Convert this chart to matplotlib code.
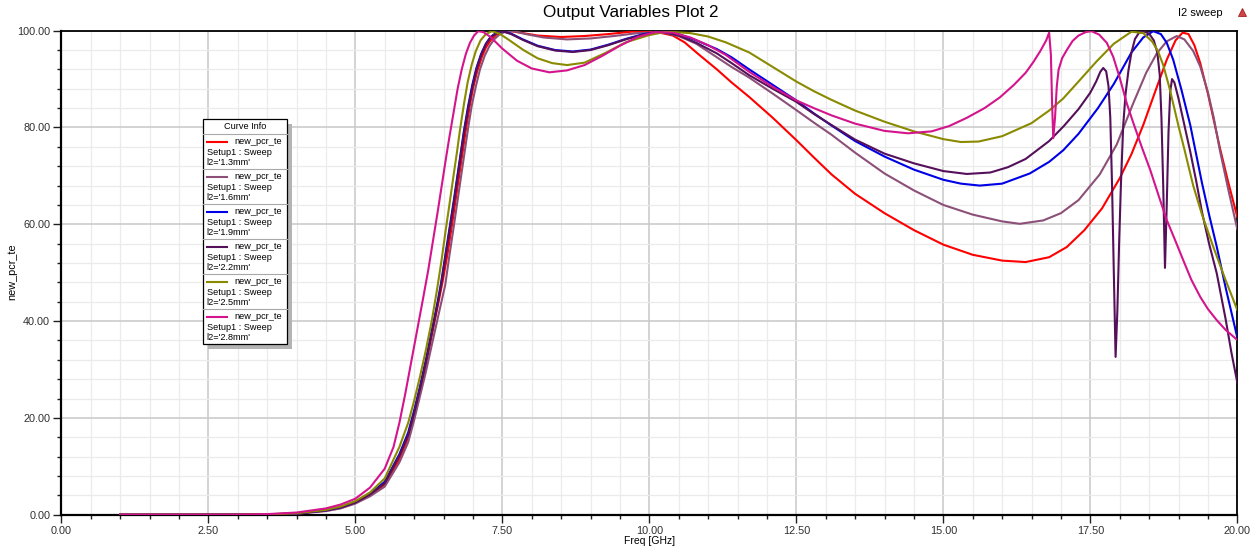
import matplotlib
matplotlib.use("Agg")
import matplotlib.pyplot as plt
from matplotlib.ticker import MultipleLocator, FormatStrFormatter
from matplotlib.patches import Rectangle
from matplotlib.lines import Line2D

plt.rcParams['font.family'] = ['Liberation Sans', 'DejaVu Sans']

# ---- sweep data: l2 = 1.3 .. 2.8 mm -------------------------------------
labels = ["l2='1.3mm'", "l2='1.6mm'", "l2='1.9mm'", "l2='2.2mm'", "l2='2.5mm'", "l2='2.8mm'"]
colors = ['#ff0000', '#8c5078', '#0000e6', '#55105a', '#8a8a00', '#d4148c']

freq_13 = [1.0, 2.0, 3.0, 3.5, 4.0, 4.5, 4.75, 5.0, 5.25, 5.5, 5.75, 5.9, 6.0, 6.1, 6.2, 6.3,
           6.4, 6.49, 6.57, 6.64, 6.7, 6.76, 6.82, 6.88, 6.94, 7.0, 7.07, 7.15, 7.22, 7.3, 7.4,
           7.5, 7.6, 7.8, 8.1, 8.5, 8.9, 9.3, 9.7, 10.1, 10.4, 10.6, 10.85, 11.15, 11.4, 11.7,
           12.1, 12.5, 12.8, 13.1, 13.5, 14.0, 14.5, 15.0, 15.5, 16.0, 16.4, 16.8, 17.1, 17.4,
           17.7, 18.0, 18.2, 18.4, 18.6, 18.8, 18.95, 19.07, 19.17, 19.27, 19.37, 19.5, 19.6,
           19.7, 19.85, 20.0]
pcr_13 = [0, 0, 0.01, 0.05, 0.22, 0.8, 1.4, 2.4, 4.0, 6.2, 11.5, 16, 20.5, 25.5, 31, 37,
          43, 48.5, 54, 59.5, 64.5, 69.5, 74.5, 79.5, 84, 88, 91.5, 94.5, 96.5, 98, 99.2,
          99.8, 100, 99.6, 99.0, 98.7, 98.9, 99.3, 99.8, 99.8, 99.0, 97.6, 95.0, 92.0, 89.3, 86.3,
          82.0, 77.4, 73.8, 70.3, 66.3, 62.3, 58.8, 55.8, 53.7, 52.5, 52.2, 53.2, 55.3, 58.8,
          63.3, 69.5, 74.5, 80.5, 87.3, 94.0, 98.0, 99.6, 99.3, 97.0, 93.3, 87.0, 81.5,
          76.0, 68.5, 61.5]

freq_16 = [1.0, 2.0, 3.0, 3.5, 4.0, 4.5, 4.75, 5.0, 5.25, 5.5, 5.75, 5.9, 6.0, 6.1, 6.2, 6.3,
           6.4, 6.53, 6.6, 6.68, 6.74, 6.8, 6.86, 6.92, 6.98, 7.05, 7.12, 7.2, 7.28, 7.36, 7.45,
           7.55, 7.7, 7.9, 8.2, 8.6, 9.0, 9.4, 9.8, 10.2, 10.5, 10.8, 11.15, 11.4, 11.7, 12.1,
           12.5, 12.8, 13.1, 13.5, 14.0, 14.5, 15.0, 15.5, 16.0, 16.3, 16.7, 17.0, 17.3, 17.66,
           17.95, 18.23, 18.45, 18.63, 18.8, 18.97, 19.1, 19.25, 19.37, 19.5, 19.6, 19.7, 19.85,
           20.0]
pcr_16 = [0, 0, 0.01, 0.05, 0.2, 0.75, 1.3, 2.3, 3.8, 5.8, 10.8, 15, 19.5, 24.5, 29.5, 35,
          40.5, 47.5, 53.5, 60, 65, 70, 75, 80, 84.5, 88.5, 92, 94.8, 96.8, 98.2, 99.2,
          99.8, 99.9, 99.3, 98.6, 98.2, 98.4, 98.9, 99.5, 99.7, 98.9, 97.3, 94.5, 92.5, 90.3, 87.0,
          83.6, 81.0, 78.5, 74.8, 70.5, 67.0, 64.0, 62.0, 60.6, 60.1, 60.8, 62.3, 65.0, 70.3,
          76.5, 85.0, 91.3, 95.3, 97.8, 98.9, 98.2, 95.8, 92.6, 87.3, 82.0, 75.5, 67.0,
          59.0]

freq_19 = [1.0, 2.0, 3.0, 3.5, 4.0, 4.5, 4.75, 5.0, 5.25, 5.5, 5.75, 5.9, 6.0, 6.1, 6.2, 6.3,
           6.4, 6.46, 6.53, 6.6, 6.67, 6.73, 6.79, 6.85, 6.92, 6.99, 7.06, 7.14, 7.22, 7.3, 7.4,
           7.5, 7.65, 7.85, 8.1, 8.4, 8.7, 9.0, 9.3, 9.6, 9.9, 10.2, 10.5, 10.8, 11.15, 11.4,
           11.7, 12.1, 12.5, 12.8, 13.1, 13.5, 14.0, 14.5, 15.0, 15.3, 15.62, 16.0, 16.47, 16.8,
           17.04, 17.3, 17.63, 17.9, 18.2, 18.4, 18.57, 18.7, 18.8, 18.91, 19.05, 19.2, 19.3,
           19.4, 19.52, 19.65, 19.8, 20.0]
pcr_19 = [0, 0, 0.01, 0.06, 0.25, 0.9, 1.5, 2.6, 4.3, 6.8, 12.5, 17, 21.5, 26.5, 32, 38,
          44, 48, 53.5, 59, 64.5, 69.5, 74.5, 79.5, 84.5, 88.8, 92.3, 95.2, 97.3, 98.7, 99.6,
          99.9, 99.4, 98.2, 96.9, 96.0, 95.7, 96.1, 97.1, 98.3, 99.3, 99.8, 99.3, 98.0, 96.2, 94.5,
          92.0, 88.8, 85.6, 82.9, 80.4, 77.2, 74.0, 71.3, 69.2, 68.4, 68.0, 68.4, 70.5, 72.9,
          75.3, 78.7, 84.0, 89.0, 95.5, 98.6, 99.9, 99.3, 97.5, 94.0, 87.8, 80.5, 74.5,
          68.5, 62.0, 55.4, 47.0, 36.6]

freq_22 = [1.0, 2.0, 3.0, 3.5, 4.0, 4.5, 4.75, 5.0, 5.25, 5.5, 5.75, 5.9, 6.0, 6.1, 6.2, 6.3,
           6.4, 6.46, 6.53, 6.6, 6.67, 6.73, 6.79, 6.85, 6.92, 6.99, 7.06, 7.14, 7.22, 7.3, 7.4,
           7.5, 7.65, 7.85, 8.1, 8.4, 8.7, 9.0, 9.3, 9.6, 9.9, 10.2, 10.5, 10.8, 11.15, 11.4,
           11.7, 12.1, 12.5, 12.8, 13.1, 13.5, 14.0, 14.5, 15.0, 15.4, 15.8, 16.1, 16.4, 16.8,
           17.05, 17.3, 17.5, 17.6, 17.67, 17.72, 17.77, 17.81, 17.84, 17.87, 17.9, 17.93, 17.96,
           17.99, 18.02, 18.06, 18.1, 18.15, 18.2, 18.26, 18.33, 18.4, 18.5, 18.58, 18.64, 18.68,
           18.71, 18.74, 18.77, 18.8, 18.83, 18.86, 18.89, 18.93, 19.0, 19.1, 19.2, 19.3, 19.4,
           19.52, 19.65, 19.8, 19.9, 20.0]
pcr_22 = [0, 0, 0.01, 0.06, 0.25, 0.9, 1.5, 2.5, 4.2, 6.5, 12.2, 16.5, 21, 26, 31.5, 37.5,
          43.5, 47.5, 53, 58.5, 64, 69, 74, 79, 84, 88.3, 92, 95, 97.2, 98.6, 99.5,
          99.9, 99.3, 98.1, 96.8, 95.9, 95.6, 96.0, 97.0, 98.2, 99.2, 99.8, 99.0, 97.5, 95.3, 93.3,
          90.8, 88.0, 85.3, 82.8, 80.5, 77.5, 74.6, 72.6, 71.0, 70.4, 70.7, 71.8, 73.5, 77.2,
          80.3, 83.8, 87.2, 89.5, 91.5, 92.3, 91.6, 88.5, 82.0, 68.0, 50.0, 32.6, 42.0,
          56.0, 68.0, 80.5, 87.0, 91.9, 95.5, 98.3, 99.6, 99.9, 99.4, 98.0, 95.5, 91.0,
          82.0, 68.0, 51.0, 64.0, 79.0, 87.5, 90.0, 89.3, 86.0, 80.5, 75.0, 69.0, 62.5,
          56.0, 49.9, 40.5, 33.5, 27.3]

freq_25 = [1.0, 2.0, 3.0, 3.5, 4.0, 4.5, 4.75, 5.0, 5.25, 5.5, 5.75, 5.9, 6.0, 6.1, 6.2, 6.3,
           6.39, 6.46, 6.54, 6.6, 6.67, 6.73, 6.78, 6.85, 6.91, 6.98, 7.05, 7.13, 7.22, 7.32,
           7.45, 7.6, 7.86, 8.1, 8.35, 8.6, 8.9, 9.27, 9.6, 10.0, 10.3, 10.7, 11.0, 11.3, 11.7,
           12.1, 12.5, 12.8, 13.1, 13.5, 14.0, 14.5, 15.0, 15.3, 15.6, 16.0, 16.5, 16.8, 17.04,
           17.3, 17.61, 17.9, 18.2, 18.4, 18.55, 18.65, 18.74, 18.85, 19.0, 19.1, 19.25, 19.4,
           19.59, 19.8, 20.0]
pcr_25 = [0, 0, 0.01, 0.08, 0.3, 1.0, 1.7, 2.8, 4.6, 7.5, 14, 19, 23.5, 28.5, 34, 40,
          46.5, 52, 59, 64, 70, 75, 79.5, 85, 89.3, 93, 95.8, 98, 99.3, 99.9,
          99.4, 98.2, 96.0, 94.3, 93.3, 92.9, 93.4, 95.5, 97.6, 99.1, 99.8, 99.5, 98.8, 97.6, 95.5,
          92.5, 89.5, 87.5, 85.7, 83.5, 81.2, 79.2, 77.6, 77.0, 77.1, 78.2, 80.9, 83.5, 86.0,
          89.5, 93.7, 97.3, 99.8, 99.5, 97.8, 95.8, 92.9, 88.0, 80.3, 75.5, 68.0, 62.0,
          55.4, 48.5, 42.3]

freq_28 = [1.0, 2.0, 3.0, 3.5, 4.0, 4.5, 4.75, 5.0, 5.25, 5.5, 5.65, 5.75, 5.85, 5.95, 6.05,
           6.15, 6.24, 6.32, 6.4, 6.47, 6.54, 6.6, 6.67, 6.74, 6.81, 6.88, 6.95, 7.02, 7.09,
           7.18, 7.3, 7.5, 7.75, 8.0, 8.3, 8.6, 8.9, 9.2, 9.5, 9.8, 10.1, 10.4, 10.7, 11.0, 11.3,
           11.7, 12.1, 12.5, 12.8, 13.1, 13.5, 14.0, 14.4, 14.8, 15.1, 15.4, 15.7, 15.96, 16.2,
           16.4, 16.53, 16.65, 16.75, 16.8, 16.83, 16.85, 16.87, 16.9, 16.93, 16.96, 17.02, 17.1,
           17.2, 17.3, 17.42, 17.52, 17.65, 17.78, 17.89, 18.0, 18.12, 18.23, 18.38, 18.52, 18.66,
           18.8, 18.95, 19.08, 19.22, 19.37, 19.5, 19.65, 19.8, 20.0]
pcr_28 = [0, 0, 0.02, 0.12, 0.45, 1.3, 2.1, 3.3, 5.6, 9.5, 14, 19, 25, 31.5, 38,
          44.5, 50.5, 56.5, 62.5, 68, 73.5, 78, 83, 88, 92, 95.2, 97.5, 99, 99.9,
          99.7, 98.7, 96.3, 93.8, 92.2, 91.4, 91.8, 92.9, 94.8, 96.9, 98.7, 99.7, 99.6, 98.6, 97.0,
          95.0, 91.5, 88.4, 85.6, 84.0, 82.5, 80.8, 79.3, 78.8, 79.2, 80.3, 82.0, 84.0, 86.2, 88.8,
          91.3, 93.5, 95.8, 98.0, 99.6, 95.0, 85.0, 77.8, 82.0, 88.5, 91.9, 94.3, 96.0,
          97.9, 99.0, 99.7, 99.9, 99.2, 97.5, 94.6, 90.3, 85.0, 81.0, 75.8, 71.2, 66.0,
          60.9, 56.5, 52.6, 48.5, 45.0, 42.5, 40.2, 38.2, 36.1]

freqs = [freq_13, freq_16, freq_19, freq_22, freq_25, freq_28]
values = [pcr_13, pcr_16, pcr_19, pcr_22, pcr_25, pcr_28]

W, H = 1258, 548
fig = plt.figure(figsize=(W / 100, H / 100), dpi=100)


def fx(px):
    return px / W


def fy(py):
    return 1 - py / H


ax = fig.add_axes([fx(61.3), fy(514.7), fx(1237.3) - fx(61.3), fy(30.7) - fy(514.7)])

for f, v, c in zip(freqs, values, colors):
    ax.plot(f, v, color=c, lw=1.5, solid_joinstyle='round', zorder=3)

ax.set_xlim(0, 20)
ax.set_ylim(0, 100)
ax.xaxis.set_major_locator(MultipleLocator(2.5))
ax.xaxis.set_minor_locator(MultipleLocator(0.5))
ax.yaxis.set_major_locator(MultipleLocator(20))
ax.yaxis.set_minor_locator(MultipleLocator(4))
ax.xaxis.set_major_formatter(FormatStrFormatter('%.2f'))
ax.yaxis.set_major_formatter(FormatStrFormatter('%.2f'))
ax.grid(which='major', color='#c8c8c8', lw=1.1, zorder=1)
ax.grid(which='minor', color='#ebebeb', lw=0.9, zorder=0)
ax.set_axisbelow(True)
ax.tick_params(which='major', direction='out', length=5.5, width=1, labelsize=7.8,
               colors='#202020', labelcolor='#303030', pad=2.5)
ax.tick_params(which='minor', direction='out', length=3, width=1, colors='#202020')
for side in ['left', 'bottom']:
    ax.spines[side].set_linewidth(1.6)
for side in ['top', 'right']:
    ax.spines[side].set_linewidth(1.3)

fig.text(fx(631), fy(13), 'Output Variables Plot 2', ha='center', va='center', fontsize=12.3)
fig.text(fx(1200), fy(13), 'I2 sweep', ha='center', va='center', fontsize=8)
fig.text(fx(12), fy(272), 'new_pcr_te', ha='center', va='center', rotation=90, fontsize=7.8)
fig.text(fx(650), fy(541), 'Freq [GHz]', ha='center', va='center', fontsize=7.5)
fig.add_artist(Line2D([fx(1241.5)], [fy(12)], marker='^', markersize=5.5, color='#d04545',
                      markeredgecolor='#a02020', markeredgewidth=0.6, transform=fig.transFigure))

# ---- curve info box ----
bx0, bx1, by0, by1 = 203.3, 287.3, 119.0, 344.3
fig.add_artist(Rectangle((fx(bx0 + 5), fy(by1 + 5)), fx(bx1) - fx(bx0), fy(by0) - fy(by1),
                         transform=fig.transFigure, facecolor='#b4b4b4', edgecolor='none', zorder=5))
fig.add_artist(Rectangle((fx(bx0), fy(by1)), fx(bx1) - fx(bx0), fy(by0) - fy(by1),
                         transform=fig.transFigure, facecolor='white', edgecolor='black',
                         lw=0.9, zorder=6))
fig.text(fx((bx0 + bx1) / 2), fy(126.5), 'Curve Info', ha='center', va='center', fontsize=6.6,
         zorder=7)
sep_rows = [134.0] + [169.3 + 35 * i for i in range(5)]
for ys in sep_rows:
    fig.add_artist(Line2D([fx(bx0), fx(bx1)], [fy(ys), fy(ys)], color='#a8a8a8', lw=0.8,
                          transform=fig.transFigure, zorder=7))
for i, (lab, c) in enumerate(zip(labels, colors)):
    y0 = 141.7 + 35 * i
    fig.add_artist(Line2D([fx(206.7), fx(226.7)], [fy(y0), fy(y0)], color=c, lw=1.5,
                          transform=fig.transFigure, zorder=7))
    fig.text(fx(234.3), fy(y0), 'new_pcr_te', ha='left', va='center', fontsize=6.6, zorder=7)
    fig.text(fx(206.7), fy(y0 + 11), 'Setup1 : Sweep', ha='left', va='center', fontsize=6.6,
             zorder=7)
    fig.text(fx(206.7), fy(y0 + 21), lab, ha='left', va='center', fontsize=6.6, zorder=7)

fig.savefig('out.png', dpi=100)
